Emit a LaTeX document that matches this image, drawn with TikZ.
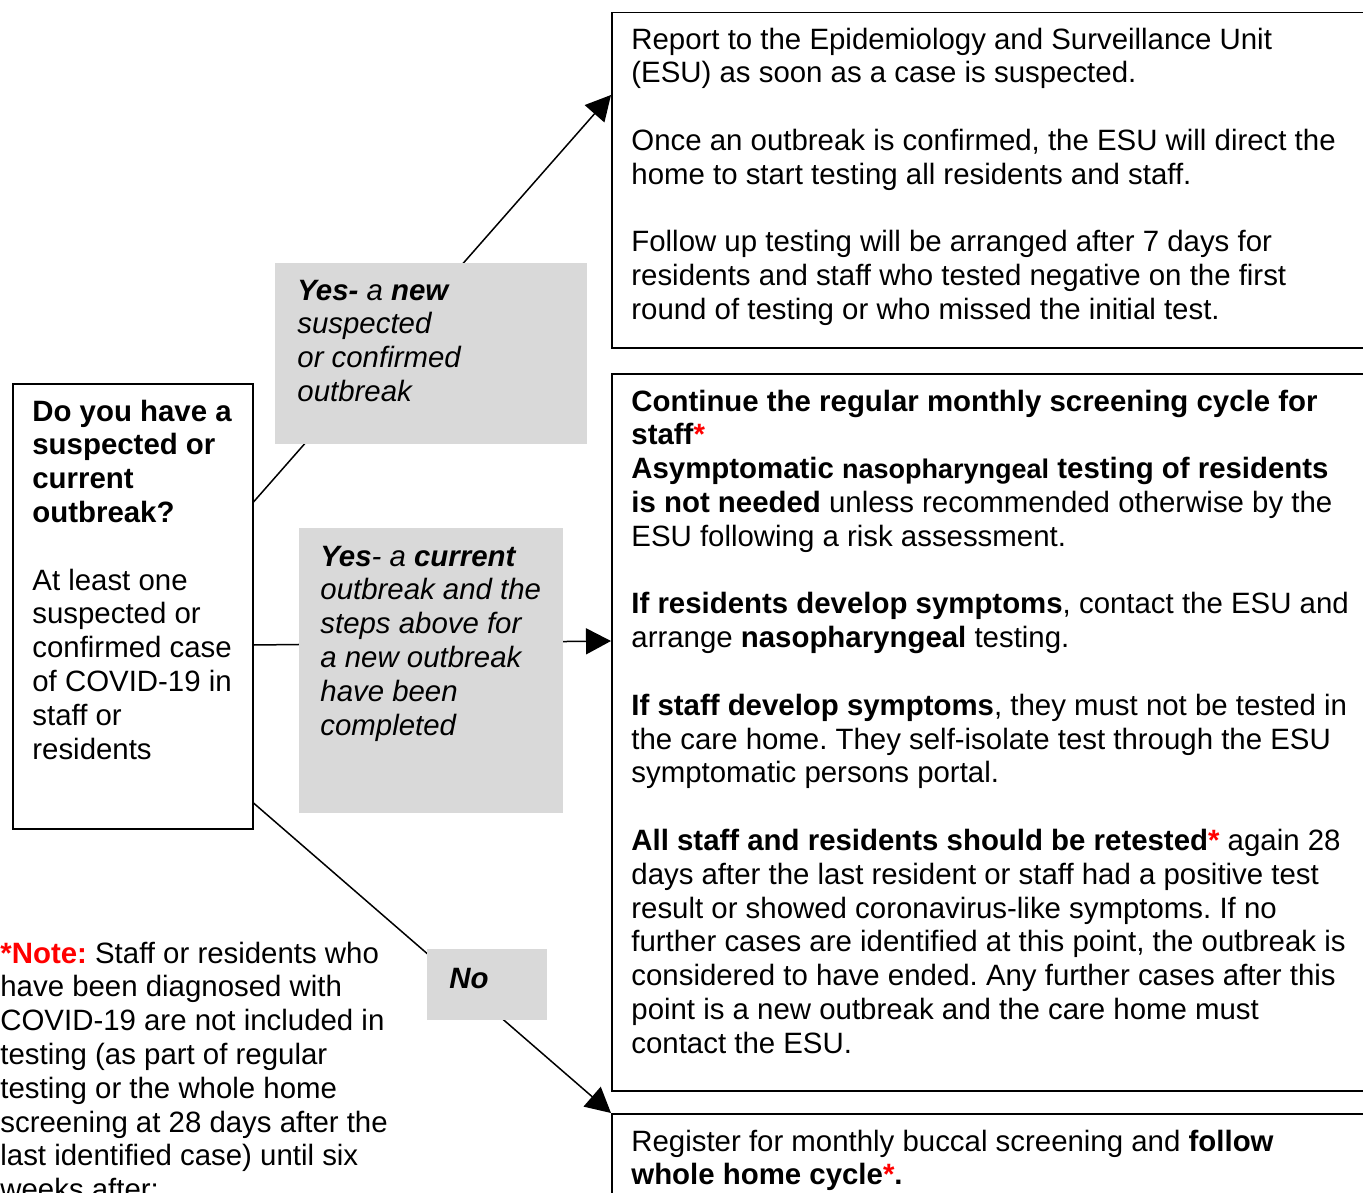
\documentclass[tikz,border=0pt]{standalone}
\usepackage{fontspec}
\setmainfont{Liberation Sans}
\usetikzlibrary{arrows.meta,calc}
\frenchspacing

\definecolor{boxgrey}{HTML}{D9D9D9}
\newcommand{\redstar}{\textcolor{red}{*}}

\tikzset{
  frame/.style={draw, line width=0.75pt, anchor=north west, inner sep=0pt},
  greybox/.style={fill=boxgrey, anchor=north west, inner sep=0pt},
  boxtext/.style={anchor=north west, inner sep=0pt, align=left,
    font=\fontsize{14.7}{16.9}\selectfont},
  greytext/.style={boxtext, font=\fontsize{14.7}{16.9}\selectfont\itshape},
  link/.style={line width=0.75pt, -{Triangle[length=12.5pt,width=13pt]}},
}

\begin{document}
\begin{tikzpicture}[x=0.5pt,y=-0.5pt] % one unit = one pixel of the reference
\useasboundingbox (0,0) rectangle (1363,1192);
\clip (0,0) rectangle (1363,1192);

% frames
\node[frame, minimum width=120pt, minimum height=222.5pt] (question) at (12,383) {};
\node[frame, minimum width=382pt, minimum height=167.5pt] (report) at (611,12) {};
\node[frame, minimum width=382pt, minimum height=358.5pt] (regular) at (611,373) {};
\node[frame, minimum width=382pt, minimum height=80pt] (register) at (611,1113) {};

% connectors, behind the grey labels
\draw[link] ($(question.north east)+(0,119)$) -- ($(report.north west)+(0,83)$);
\draw[link] ($(question.north east)+(0,262)$) -- ($(regular.north west)+(0,268)$);
\draw[link] ($(question.north east)+(0,420)$) -- (register.north west);

% grey labels
\node[greybox, minimum width=156pt, minimum height=90.5pt] (newbox) at (275,263) {};
\node[greybox, minimum width=132pt, minimum height=142.5pt] (currentbox) at (299,528) {};
\node[greybox, minimum width=60pt, minimum height=35.5pt] (nobox) at (427,949) {};

% texts
\node[boxtext] (questiontext) at (32,397) {\strut\textbf{Do you have a}\\
  \textbf{suspected or}\\ \textbf{current}\\ \textbf{outbreak?}\\[16.9pt]
  At least one\\ suspected or\\ confirmed case\\ of COVID-19 in\\ staff or\\ residents};

\node[greytext] (newtext) at (297,276) {\strut\textbf{Yes-} a \textbf{new}\\
  suspected\\ or confirmed\\ outbreak};

\node[greytext] (currenttext) at (320,542) {\strut\textbf{Yes}- a \textbf{current}\\
  outbreak and the\\ steps above for\\ a new outbreak\\ have been\\ completed};

\node[greytext] (notext) at (449,964) {\strut\textbf{No}};

\node[boxtext] (reporttext) at (631,25) {\strut Report to the Epidemiology and Surveillance Unit\\
  (ESU) as soon as a case is suspected.\\[16.9pt]
  Once an outbreak is confirmed, the ESU will direct the\\
  home to start testing all residents and staff.\\[16.9pt]
  Follow up testing will be arranged after 7 days for\\
  residents and staff who tested negative on the first\\
  round of testing or who missed the initial test.};

\node[boxtext] (regulartext) at (631,387) {\strut\textbf{Continue the regular monthly screening cycle for}\\
  \textbf{staff}\textbf{\redstar}\\
  \textbf{Asymptomatic {\fontsize{13.5}{16.9}\selectfont nasopharyngeal} testing of residents}\\
  \textbf{is not needed} unless recommended otherwise by the\\
  ESU following a risk assessment.\\[16.9pt]
  \textbf{If residents develop symptoms}, contact the ESU and\\
  arrange \textbf{nasopharyngeal} testing.\\[16.9pt]
  \textbf{If staff develop symptoms}, they must not be tested in\\
  the care home. They self-isolate test through the ESU\\
  symptomatic persons portal.\\[16.9pt]
  \textbf{All staff and residents should be retested}\textbf{\redstar} again 28\\
  days after the last resident or staff had a positive test\\
  result or showed coronavirus-like symptoms. If no\\
  further cases are identified at this point, the outbreak is\\
  considered to have ended. Any further cases after this\\
  point is a new outbreak and the care home must\\
  contact the ESU.};

\node[boxtext] (registertext) at (631,1127) {\strut Register for monthly buccal screening and \textbf{follow}\\
  \textbf{whole home cycle}\textbf{\redstar}\textbf{.}};

\node[boxtext] (notetext) at (0,939) {\strut\textcolor{red}{\textbf{*Note:}} Staff or residents who\\
  have been diagnosed with\\ COVID-19 are not included in\\
  testing (as part of regular\\ testing or the whole home\\
  screening at 28 days after the\\ last identified case) until six\\
  weeks after:};

\end{tikzpicture}
\end{document}
